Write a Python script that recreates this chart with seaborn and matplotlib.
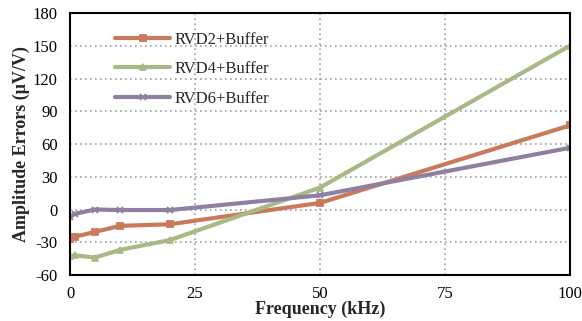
import matplotlib
matplotlib.use("Agg")
import matplotlib.pyplot as plt
import seaborn as sns
import pandas as pd

freq = [0, 1, 5, 10, 20, 50, 100]
rvd2 = [-27, -25, -20.5, -15, -13.5, 6, 77]
rvd4 = [-43, -42, -44, -37, -28, 20, 150]
rvd6 = [-6.5, -4, 0, -0.5, -0.5, 13, 56.5]
series_names = ["RVD2+Buffer", "RVD4+Buffer", "RVD6+Buffer"]
xticks = [0, 25, 50, 75, 100]
yticks = [-60, -30, 0, 30, 60, 90, 120, 150, 180]

sns.set_theme(style="white")
plt.rcParams["font.family"] = ["Liberation Serif", "DejaVu Serif"]

fig = plt.figure(figsize=(5.82, 3.21), dpi=100)
ax = fig.add_axes([0.1203, 0.1433, 0.8587, 0.8162])

colors = ["#C97A5C", "#A9B985", "#8F7FA0"]
markers = ["s", "^", "x"]
for name, vals, c, m in zip(series_names, [rvd2, rvd4, rvd6], colors, markers):
    d = pd.DataFrame({"freq": freq, "err": vals})
    sns.lineplot(data=d, x="freq", y="err", color=c, marker=m, linewidth=3.0,
                 markersize=5, markeredgewidth=1.3, markeredgecolor=c,
                 markerfacecolor=c, label=name, ax=ax)

ax.set_xlim(0, 100)
ax.set_ylim(-60, 180)
ax.set_xticks(xticks)
ax.set_yticks(yticks)
ax.set_xticklabels([str(t) for t in xticks], fontsize=12)
ax.set_yticklabels([str(t) for t in yticks], fontsize=12)
ax.tick_params(axis="y", length=0, pad=9, colors="black")
ax.tick_params(axis="x", length=0, pad=8, colors="black")
ax.grid(True, linestyle=(0, (1, 2)), color="#A0A0A0", linewidth=1.2)
for s in ax.spines.values():
    s.set_color("black")
    s.set_linewidth(1.5)
    s.set_visible(True)

ax.set_xlabel("Frequency (kHz)", fontsize=13, fontweight="bold", labelpad=-1)
ax.set_ylabel("Amplitude Errors (\u03bcV/V)", fontsize=13, fontweight="bold", labelpad=2)

leg = ax.legend(loc="upper left", bbox_to_anchor=(0.06, 0.985),
                frameon=False, fontsize=12, handlelength=3.3, handletextpad=0.3,
                labelspacing=0.8)

fig.savefig("out.png", dpi=100)
